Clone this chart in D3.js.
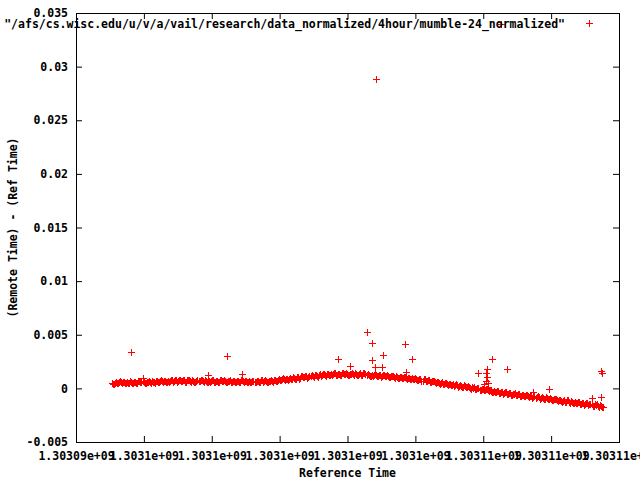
<!DOCTYPE html>
<html lang="en">
<head>
<meta charset="utf-8">
<title>mumble-24 normalized</title>
<script src="https://d3js.org/d3.v7.min.js"></script>
<style>
  body { margin: 0; background: #fff; }
  svg text { font-family: "DejaVu Sans Mono", "Liberation Mono", monospace; font-weight: bold; font-size: 11.5px; fill: #000; }
</style>
</head>
<body>
<div id="graph"></div>
<script>

// axis ticks (gnuplot %g labels)
var xTicks = [1303094000, 1303096000, 1303098000, 1303100000, 1303102000, 1303104000, 1303106000, 1303108000, 1303110000];
var xTickLabels = ["1.30309e+09", "1.3031e+09", "1.3031e+09", "1.3031e+09", "1.3031e+09", "1.3031e+09", "1.30311e+09", "1.30311e+09", "1.30311e+09"];
var yTicks = [-0.005, 0, 0.005, 0.01, 0.015, 0.02, 0.025, 0.03, 0.035];
var yTickLabels = ["-0.005", "0", "0.005", "0.01", "0.015", "0.02", "0.025", "0.03", "0.035"];

var seriesName = '"/afs/cs.wisc.edu/u/v/a/vail/research/data_normalized/4hour/mumble-24_normalized"';

// the dense band of samples: reference time (s)
var bandTime = [
  1303095060, 1303095090, 1303095120, 1303095150, 1303095180, 1303095210, 1303095240, 1303095270, 1303095300, 1303095330,
  1303095360, 1303095390, 1303095420, 1303095450, 1303095480, 1303095510, 1303095540, 1303095570, 1303095600, 1303095630,
  1303095660, 1303095690, 1303095720, 1303095750, 1303095780, 1303095810, 1303095840, 1303095870, 1303095900, 1303095930,
  1303095960, 1303095990, 1303096020, 1303096050, 1303096080, 1303096110, 1303096140, 1303096170, 1303096200, 1303096230,
  1303096260, 1303096290, 1303096320, 1303096350, 1303096380, 1303096410, 1303096440, 1303096470, 1303096500, 1303096530,
  1303096560, 1303096590, 1303096620, 1303096650, 1303096680, 1303096710, 1303096740, 1303096770, 1303096800, 1303096830,
  1303096860, 1303096890, 1303096920, 1303096950, 1303096980, 1303097010, 1303097040, 1303097070, 1303097100, 1303097130,
  1303097160, 1303097190, 1303097220, 1303097250, 1303097280, 1303097310, 1303097340, 1303097370, 1303097400, 1303097430,
  1303097460, 1303097490, 1303097520, 1303097550, 1303097580, 1303097610, 1303097640, 1303097670, 1303097700, 1303097730,
  1303097760, 1303097790, 1303097820, 1303097850, 1303097880, 1303097910, 1303097940, 1303097970, 1303098000, 1303098030,
  1303098060, 1303098090, 1303098120, 1303098150, 1303098180, 1303098210, 1303098240, 1303098270, 1303098300, 1303098330,
  1303098360, 1303098390, 1303098420, 1303098450, 1303098480, 1303098510, 1303098540, 1303098570, 1303098600, 1303098630,
  1303098660, 1303098690, 1303098720, 1303098750, 1303098780, 1303098810, 1303098840, 1303098870, 1303098900, 1303098930,
  1303098960, 1303098990, 1303099020, 1303099050, 1303099080, 1303099110, 1303099140, 1303099170, 1303099200, 1303099230,
  1303099260, 1303099290, 1303099320, 1303099350, 1303099380, 1303099410, 1303099440, 1303099470, 1303099500, 1303099530,
  1303099560, 1303099590, 1303099620, 1303099650, 1303099680, 1303099710, 1303099740, 1303099770, 1303099800, 1303099830,
  1303099860, 1303099890, 1303099920, 1303099950, 1303099980, 1303100010, 1303100040, 1303100070, 1303100100, 1303100130,
  1303100160, 1303100190, 1303100220, 1303100250, 1303100280, 1303100310, 1303100340, 1303100370, 1303100400, 1303100430,
  1303100460, 1303100490, 1303100520, 1303100550, 1303100580, 1303100610, 1303100640, 1303100670, 1303100700, 1303100730,
  1303100760, 1303100790, 1303100820, 1303100850, 1303100880, 1303100910, 1303100940, 1303100970, 1303101000, 1303101030,
  1303101060, 1303101090, 1303101120, 1303101150, 1303101180, 1303101210, 1303101240, 1303101270, 1303101300, 1303101330,
  1303101360, 1303101390, 1303101420, 1303101450, 1303101480, 1303101510, 1303101540, 1303101570, 1303101600, 1303101630,
  1303101660, 1303101690, 1303101720, 1303101750, 1303101780, 1303101810, 1303101840, 1303101870, 1303101900, 1303101930,
  1303101960, 1303101990, 1303102020, 1303102050, 1303102080, 1303102110, 1303102140, 1303102170, 1303102200, 1303102230,
  1303102260, 1303102290, 1303102320, 1303102350, 1303102380, 1303102410, 1303102440, 1303102470, 1303102500, 1303102530,
  1303102560, 1303102590, 1303102620, 1303102650, 1303102680, 1303102710, 1303102740, 1303102770, 1303102800, 1303102830,
  1303102860, 1303102890, 1303102920, 1303102950, 1303102980, 1303103010, 1303103040, 1303103070, 1303103100, 1303103130,
  1303103160, 1303103190, 1303103220, 1303103250, 1303103280, 1303103310, 1303103340, 1303103370, 1303103400, 1303103430,
  1303103460, 1303103490, 1303103520, 1303103550, 1303103580, 1303103610, 1303103640, 1303103670, 1303103700, 1303103730,
  1303103760, 1303103790, 1303103820, 1303103850, 1303103880, 1303103910, 1303103940, 1303103970, 1303104000, 1303104030,
  1303104060, 1303104090, 1303104120, 1303104150, 1303104180, 1303104210, 1303104240, 1303104270, 1303104300, 1303104330,
  1303104360, 1303104390, 1303104420, 1303104450, 1303104480, 1303104510, 1303104540, 1303104570, 1303104600, 1303104630,
  1303104660, 1303104690, 1303104720, 1303104750, 1303104780, 1303104810, 1303104840, 1303104870, 1303104900, 1303104930,
  1303104960, 1303104990, 1303105020, 1303105050, 1303105080, 1303105110, 1303105140, 1303105170, 1303105200, 1303105230,
  1303105260, 1303105290, 1303105320, 1303105350, 1303105380, 1303105410, 1303105440, 1303105470, 1303105500, 1303105530,
  1303105560, 1303105590, 1303105620, 1303105650, 1303105680, 1303105710, 1303105740, 1303105770, 1303105800, 1303105830,
  1303105860, 1303105890, 1303105920, 1303105950, 1303105980, 1303106010, 1303106040, 1303106070, 1303106100, 1303106130,
  1303106160, 1303106190, 1303106220, 1303106250, 1303106280, 1303106310, 1303106340, 1303106370, 1303106400, 1303106430,
  1303106460, 1303106490, 1303106520, 1303106550, 1303106580, 1303106610, 1303106640, 1303106670, 1303106700, 1303106730,
  1303106760, 1303106790, 1303106820, 1303106850, 1303106880, 1303106910, 1303106940, 1303106970, 1303107000, 1303107030,
  1303107060, 1303107090, 1303107120, 1303107150, 1303107180, 1303107210, 1303107240, 1303107270, 1303107300, 1303107330,
  1303107360, 1303107390, 1303107420, 1303107450, 1303107480, 1303107510, 1303107540, 1303107570, 1303107600, 1303107630,
  1303107660, 1303107690, 1303107720, 1303107750, 1303107780, 1303107810, 1303107840, 1303107870, 1303107900, 1303107930,
  1303107960, 1303107990, 1303108020, 1303108050, 1303108080, 1303108110, 1303108140, 1303108170, 1303108200, 1303108230,
  1303108260, 1303108290, 1303108320, 1303108350, 1303108380, 1303108410, 1303108440, 1303108470, 1303108500, 1303108530,
  1303108560, 1303108590, 1303108620, 1303108650, 1303108680, 1303108710, 1303108740, 1303108770, 1303108800, 1303108830,
  1303108860, 1303108890, 1303108920, 1303108950, 1303108980, 1303109010, 1303109040, 1303109070, 1303109100, 1303109130,
  1303109160, 1303109190, 1303109220, 1303109250, 1303109280, 1303109310, 1303109340, 1303109370, 1303109400, 1303109430,
  1303109460, 1303109490, 1303109520
];
// (remote time) - (ref time), seconds, one per bandTime entry
var bandOffset = [
  0.00050, 0.00041, 0.00039, 0.00053, 0.00059, 0.00048, 0.00050, 0.00063, 0.00066, 0.00055,
  0.00047, 0.00061, 0.00057, 0.00048, 0.00050, 0.00061, 0.00051, 0.00054, 0.00065, 0.00063,
  0.00047, 0.00051, 0.00062, 0.00060, 0.00049, 0.00053, 0.00068, 0.00066, 0.00055, 0.00057,
  0.00065, 0.00064, 0.00051, 0.00050, 0.00064, 0.00063, 0.00068, 0.00057, 0.00052, 0.00067,
  0.00064, 0.00055, 0.00052, 0.00065, 0.00070, 0.00059, 0.00060, 0.00073, 0.00075, 0.00065,
  0.00057, 0.00072, 0.00068, 0.00059, 0.00061, 0.00073, 0.00063, 0.00067, 0.00078, 0.00077,
  0.00061, 0.00065, 0.00076, 0.00074, 0.00063, 0.00067, 0.00082, 0.00080, 0.00068, 0.00070,
  0.00078, 0.00076, 0.00063, 0.00062, 0.00076, 0.00075, 0.00079, 0.00067, 0.00062, 0.00076,
  0.00073, 0.00063, 0.00060, 0.00072, 0.00077, 0.00065, 0.00066, 0.00078, 0.00080, 0.00069,
  0.00060, 0.00074, 0.00070, 0.00060, 0.00062, 0.00073, 0.00063, 0.00066, 0.00077, 0.00075,
  0.00058, 0.00061, 0.00072, 0.00070, 0.00059, 0.00063, 0.00078, 0.00076, 0.00065, 0.00067,
  0.00075, 0.00073, 0.00060, 0.00059, 0.00072, 0.00071, 0.00076, 0.00064, 0.00059, 0.00073,
  0.00070, 0.00060, 0.00056, 0.00068, 0.00073, 0.00061, 0.00062, 0.00074, 0.00076, 0.00065,
  0.00057, 0.00071, 0.00066, 0.00056, 0.00058, 0.00069, 0.00059, 0.00062, 0.00073, 0.00072,
  0.00056, 0.00059, 0.00070, 0.00068, 0.00057, 0.00062, 0.00077, 0.00075, 0.00064, 0.00066,
  0.00074, 0.00073, 0.00060, 0.00059, 0.00073, 0.00073, 0.00079, 0.00068, 0.00064, 0.00079,
  0.00077, 0.00068, 0.00066, 0.00080, 0.00086, 0.00075, 0.00077, 0.00090, 0.00093, 0.00083,
  0.00076, 0.00091, 0.00088, 0.00080, 0.00083, 0.00095, 0.00086, 0.00090, 0.00102, 0.00101,
  0.00086, 0.00090, 0.00102, 0.00102, 0.00092, 0.00097, 0.00113, 0.00112, 0.00102, 0.00105,
  0.00114, 0.00113, 0.00101, 0.00102, 0.00117, 0.00117, 0.00123, 0.00112, 0.00108, 0.00123,
  0.00121, 0.00112, 0.00110, 0.00124, 0.00130, 0.00119, 0.00121, 0.00134, 0.00137, 0.00127,
  0.00119, 0.00134, 0.00131, 0.00122, 0.00124, 0.00136, 0.00126, 0.00130, 0.00141, 0.00139,
  0.00123, 0.00126, 0.00137, 0.00135, 0.00124, 0.00128, 0.00143, 0.00141, 0.00130, 0.00132,
  0.00140, 0.00138, 0.00125, 0.00124, 0.00138, 0.00137, 0.00142, 0.00130, 0.00125, 0.00139,
  0.00136, 0.00126, 0.00123, 0.00135, 0.00139, 0.00127, 0.00128, 0.00140, 0.00141, 0.00130,
  0.00121, 0.00134, 0.00129, 0.00118, 0.00119, 0.00129, 0.00118, 0.00121, 0.00131, 0.00129,
  0.00112, 0.00115, 0.00125, 0.00122, 0.00110, 0.00114, 0.00128, 0.00125, 0.00113, 0.00114,
  0.00121, 0.00119, 0.00105, 0.00103, 0.00116, 0.00114, 0.00118, 0.00106, 0.00100, 0.00113,
  0.00109, 0.00098, 0.00094, 0.00105, 0.00109, 0.00096, 0.00096, 0.00107, 0.00108, 0.00096,
  0.00087, 0.00100, 0.00095, 0.00084, 0.00084, 0.00094, 0.00083, 0.00085, 0.00095, 0.00092,
  0.00075, 0.00077, 0.00086, 0.00083, 0.00070, 0.00073, 0.00087, 0.00084, 0.00071, 0.00072,
  0.00078, 0.00075, 0.00060, 0.00058, 0.00070, 0.00068, 0.00071, 0.00058, 0.00051, 0.00064,
  0.00059, 0.00048, 0.00043, 0.00054, 0.00057, 0.00044, 0.00043, 0.00054, 0.00054, 0.00042,
  0.00032, 0.00045, 0.00039, 0.00028, 0.00028, 0.00038, 0.00026, 0.00028, 0.00037, 0.00034,
  0.00016, 0.00018, 0.00027, 0.00024, 0.00011, 0.00014, 0.00027, 0.00024, 0.00011, 0.00012,
  0.00018, 0.00015, 0.00000, -0.00002, 0.00010, 0.00008, 0.00011, -0.00002, -0.00009, 0.00003,
  -0.00001, -0.00013, -0.00017, -0.00006, -0.00002, -0.00016, -0.00016, -0.00006, -0.00005, -0.00018,
  -0.00027, -0.00015, -0.00020, -0.00032, -0.00031, -0.00022, -0.00033, -0.00032, -0.00022, -0.00026,
  -0.00043, -0.00042, -0.00032, -0.00036, -0.00048, -0.00046, -0.00032, -0.00036, -0.00048, -0.00048,
  -0.00041, -0.00044, -0.00058, -0.00061, -0.00048, -0.00050, -0.00046, -0.00060, -0.00066, -0.00053,
  -0.00057, -0.00069, -0.00073, -0.00062, -0.00058, -0.00072, -0.00072, -0.00061, -0.00060, -0.00073,
  -0.00082, -0.00069, -0.00074, -0.00086, -0.00085, -0.00075, -0.00086, -0.00085, -0.00075, -0.00078,
  -0.00095, -0.00094, -0.00084, -0.00087, -0.00099, -0.00097, -0.00083, -0.00086, -0.00098, -0.00098,
  -0.00091, -0.00095, -0.00109, -0.00111, -0.00098, -0.00101, -0.00097, -0.00111, -0.00117, -0.00104,
  -0.00108, -0.00120, -0.00124, -0.00114, -0.00110, -0.00123, -0.00123, -0.00113, -0.00112, -0.00124,
  -0.00133, -0.00121, -0.00126, -0.00137, -0.00136, -0.00127, -0.00138, -0.00137, -0.00127, -0.00130,
  -0.00147, -0.00146, -0.00136, -0.00139, -0.00151, -0.00149, -0.00135, -0.00139, -0.00151, -0.00150,
  -0.00143, -0.00147, -0.00161, -0.00163, -0.00150, -0.00153, -0.00149, -0.00163, -0.00169, -0.00157,
  -0.00161, -0.00172, -0.00176
];

// isolated samples off the band
var spikeTime = [
  1303095629, 1303095983, 1303097898, 1303098448, 1303098899, 1303101727, 1303102081, 1303102573,
  1303102729, 1303102735, 1303102817, 1303102838, 1303103024, 1303103053, 1303103701, 1303103722,
  1303103907, 1303105852, 1303106020, 1303106079, 1303106093, 1303106108, 1303106123, 1303106137,
  1303106152, 1303106264, 1303106521, 1303106688, 1303107463, 1303107943, 1303109201, 1303109458,
  1303109475, 1303109487
];
var spikeOffset = [
  0.00342, 0.00100, 0.00121, 0.00305, 0.00137, 0.00271, 0.00208, 0.00529,
  0.00426, 0.00268, 0.00199, 0.02889, 0.00199, 0.00311, 0.00417, 0.00149,
  0.00277, 0.00146, 0.00037, 0.00070, 0.00145, 0.00184, 0.00103, 0.00014,
  0.00047, 0.00277, 0.03398, 0.00184, -0.00033, -0.00003, -0.00093, 0.00161,
  -0.00081, 0.00143
];

var width = 640, height = 480;
var plot = {left: 76, right: 619, top: 13, bottom: 442};

var svg = d3.select("#graph")
  .append("svg")
  .attr("width", width)
  .attr("height", height)
  .style("display", "block");

svg.append("rect").attr("width", width).attr("height", height).attr("fill", "#fff");

var x = d3.scaleLinear()
  .domain([xTicks[0], xTicks[xTicks.length - 1]])
  .range([plot.left, plot.right]);

var y = d3.scaleLinear()
  .domain([yTicks[0], yTicks[yTicks.length - 1]])
  .range([plot.bottom, plot.top]);

function styleAxis(g) {
  g.attr("font-family", null).attr("font-size", null);
  g.select(".domain").remove();
  g.selectAll(".tick line").attr("stroke", "#000");
}

// bottom axis with labels, ticks pointing inward
svg.append("g")
  .attr("transform", "translate(0," + plot.bottom + ")")
  .call(d3.axisBottom(x).tickValues(xTicks).tickSizeInner(-6).tickSizeOuter(0).tickPadding(10)
    .tickFormat(function(d, i) { return xTickLabels[i]; }))
  .call(styleAxis);

// mirrored top ticks
svg.append("g")
  .attr("transform", "translate(0," + plot.top + ")")
  .call(d3.axisTop(x).tickValues(xTicks).tickSizeInner(-6).tickSizeOuter(0).tickFormat(""))
  .call(styleAxis);

// left axis with labels
svg.append("g")
  .attr("transform", "translate(" + plot.left + ",0)")
  .call(d3.axisLeft(y).tickValues(yTicks).tickSizeInner(-6).tickSizeOuter(0).tickPadding(8)
    .tickFormat(function(d, i) { return yTickLabels[i]; }))
  .call(styleAxis);

// mirrored right ticks
svg.append("g")
  .attr("transform", "translate(" + plot.right + ",0)")
  .call(d3.axisRight(y).tickValues(yTicks).tickSizeInner(-6).tickSizeOuter(0).tickFormat(""))
  .call(styleAxis);

// border
svg.append("rect")
  .attr("x", plot.left + 0.5)
  .attr("y", plot.top + 0.5)
  .attr("width", plot.right - plot.left)
  .attr("height", plot.bottom - plot.top)
  .attr("fill", "none")
  .attr("stroke", "#000")
  .attr("shape-rendering", "crispEdges");

// axis titles
svg.append("text")
  .attr("x", (plot.left + plot.right) / 2)
  .attr("y", 473)
  .attr("text-anchor", "middle")
  .attr("dominant-baseline", "central")
  .text("Reference Time");

svg.append("text")
  .attr("transform", "translate(13," + ((plot.top + plot.bottom) / 2) + ") rotate(-90)")
  .attr("text-anchor", "middle")
  .attr("dominant-baseline", "central")
  .text("(Remote Time) - (Ref Time)");

// points
var points = bandTime.map(function(t, i) { return {t: t, v: bandOffset[i]}; })
  .concat(spikeTime.map(function(t, i) { return {t: t, v: spikeOffset[i]}; }));

var cross = "M-3.5,0H3.5M0,-3.5V3.5";

svg.append("g")
  .selectAll("path")
  .data(points)
  .enter()
  .append("path")
  .attr("d", cross)
  .attr("transform", function(d) {
    return "translate(" + (Math.round(x(d.t)) + 0.5) + "," + (Math.round(y(d.v)) + 0.5) + ")";
  })
  .attr("fill", "none")
  .attr("stroke", "#ff0000")
  .attr("stroke-width", 1)
  .attr("shape-rendering", "crispEdges");

// key
svg.append("text")
  .attr("x", 565)
  .attr("y", 24)
  .attr("text-anchor", "end")
  .attr("dominant-baseline", "central")
  .text(seriesName);

svg.append("path")
  .attr("d", cross)
  .attr("transform", "translate(589.5,23.5)")
  .attr("fill", "none")
  .attr("stroke", "#ff0000")
  .attr("shape-rendering", "crispEdges");

</script>
</body>
</html>
